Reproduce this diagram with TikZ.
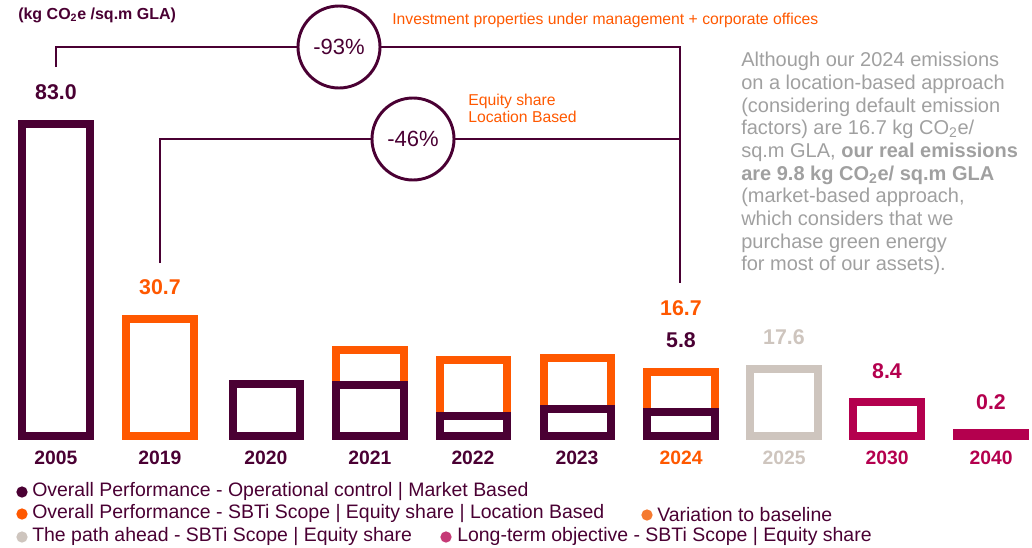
\documentclass[tikz,border=0pt]{standalone}
\usepackage{fontspec}
\setmainfont{Liberation Sans}
\usetikzlibrary{positioning}

\definecolor{plum}{RGB}{74,0,51}
\definecolor{flame}{RGB}{255,88,0}
\definecolor{sand}{RGB}{206,197,190}
\definecolor{berry}{RGB}{180,0,78}
\definecolor{note}{RGB}{160,160,160}
\definecolor{flamedot}{RGB}{245,122,48}
\definecolor{berrydot}{RGB}{197,58,118}

\tikzset{
  box/.style={line width=6pt},
  link/.style={draw=plum,line width=2.2pt},
  pct/.style={circle,draw=plum,line width=2.2pt,minimum size=61.5pt,inner sep=0pt,
    font=\fontsize{16.5}{18}\selectfont,text=plum},
  year/.style={font=\fontsize{14.5}{16}\selectfont\bfseries},
  val/.style={font=\fontsize{16}{18}\selectfont\bfseries},
  key/.style={anchor=west,inner sep=0pt,font=\fontsize{14.6}{17}\selectfont,text=plum},
  dot/.style={circle,fill=#1,inner sep=0pt,minimum size=8.5pt}
}

\begin{document}
\begin{tikzpicture}[x=0.75pt,y=-0.75pt]
\useasboundingbox (0,0) rectangle (1032,547);

% unit
\node[anchor=west,inner sep=0pt,font=\fontsize{12}{14}\selectfont\bfseries,text=plum] (unit) at (18,15) {(kg CO\textsubscript{2}e /sq.m GLA)};

% bars
\draw[box,plum] (22,124) rectangle (90,436);
\draw[box,flame] (126,319) rectangle (194,436);
\draw[box,plum] (233,384) rectangle (300,436);
\draw[box,flame] (336,350) rectangle (404,436);
\draw[box,plum] (336,385) rectangle (404,436);
\draw[box,flame] (440,360) rectangle (507,436);
\draw[box,plum] (440,416) rectangle (507,436);
\draw[box,flame] (544,358) rectangle (611,436);
\draw[box,plum] (544,409) rectangle (611,436);
\draw[box,flame] (647,372) rectangle (715,436);
\draw[box,plum] (647,412) rectangle (715,436);
\draw[box,sand] (750,369) rectangle (818,436);
\draw[box,berry] (853,402) rectangle (921,436);
\fill[berry] (953,429) rectangle (1029,440);

% years
\node[year,text=plum] (y2005) at (56,458) {2005};
\node[year,text=plum] (y2019) at (160,458) {2019};
\node[year,text=plum] (y2020) at (266,458) {2020};
\node[year,text=plum] (y2021) at (370,458) {2021};
\node[year,text=plum] (y2022) at (473,458) {2022};
\node[year,text=plum] (y2023) at (577,458) {2023};
\node[year,text=flame] (y2024) at (681,458) {2024};
\node[year,text=sand] (y2025) at (784,458) {2025};
\node[year,text=berry] (y2030) at (887,458) {2030};
\node[year,text=berry] (y2040) at (991,458) {2040};

% values
\node[val,text=plum] (v2005) at (56,92) {83.0};
\node[val,text=flame] (v2019) at (160,287) {30.7};
\node[val,text=flame] (v2024a) at (681,308) {16.7};
\node[val,text=plum] (v2024b) at (681,340) {5.8};
\node[val,text=sand] (v2025) at (784,337) {17.6};
\node[val,text=berry] (v2030) at (887,371) {8.4};
\node[val,text=berry] (v2040) at (991,402) {0.2};

% variation to baseline
\node[pct] (c93) at (339,47) {-93\%};
\node[pct] (c46) at (413,139) {-46\%};
\coordinate (a93) at (56,67);
\coordinate (b93) at (680,283);
\coordinate (a46) at (160,263);
\coordinate (b46) at (680,139);
\draw[link] (a93) |- (c93.west);
\draw[link] (c93.east) -| (b93);
\draw[link] (a46) |- (c46.west);
\draw[link] (c46.east) -- (b46);

\node[anchor=west,inner sep=0pt,font=\fontsize{11.8}{14}\selectfont,text=flame] (scope1) at (392,20) {Investment properties under management + corporate offices};
\node[anchor=north west,inner sep=0pt,align=left,font=\fontsize{11.8}{12.75}\selectfont,text=flame] (scope2) at (468,94) {Equity share\\Location Based};

% comment
\node[anchor=north west,inner sep=0pt,align=left,font=\fontsize{15}{17}\selectfont,text=note] (remark) at (741,52) {Although our 2024 emissions\\on a location-based approach\\(considering default emission\\factors) are 16.7 kg CO\textsubscript{2}e/\\sq.m GLA, \textbf{our real emissions}\\\textbf{are 9.8 kg CO\textsubscript{2}e/ sq.m GLA}\\(market-based approach,\\which considers that we\\purchase green energy\\for most of our assets).};

% legend
\node[dot=plum] (d1) at (22,492) {};
\node[key] (k1) at (32,492) {Overall Performance - Operational control | Market Based};
\node[dot=flame] (d2) at (22,514) {};
\node[key] (k2) at (32,514) {Overall Performance - SBTi Scope | Equity share | Location Based};
\node[dot=flamedot] (d4) at (647,515) {};
\node[key] (k4) at (657,515) {Variation to baseline};
\node[dot=sand] (d3) at (22,537) {};
\node[key] (k3) at (32,537) {The path ahead - SBTi Scope | Equity share};
\node[dot=berrydot] (d5) at (446,537) {};
\node[key] (k5) at (457,537) {Long-term objective - SBTi Scope | Equity share};

\end{tikzpicture}
\end{document}
